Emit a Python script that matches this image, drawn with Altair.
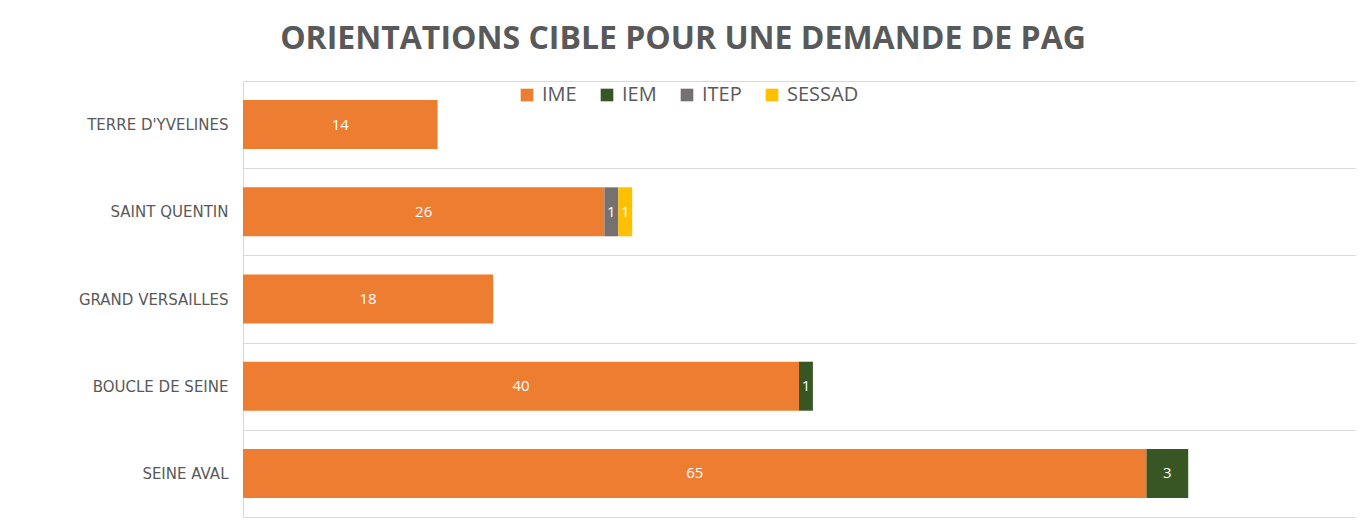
import altair as alt
import pandas as pd

regions = ["TERRE D'YVELINES", "SAINT QUENTIN", "GRAND VERSAILLES", "BOUCLE DE SEINE", "SEINE AVAL"]
types = ["IME", "IEM", "ITEP", "SESSAD"]
colors = ["#ED7D31", "#375623", "#767171", "#FFC000"]

ime = [14, 26, 18, 40, 65]
iem = [0, 0, 0, 1, 3]
itep = [0, 1, 0, 0, 0]
sessad = [0, 1, 0, 0, 0]

rows = []
for i, r in enumerate(regions):
    for k, (t, vals) in enumerate(zip(types, [ime, iem, itep, sessad])):
        if vals[i] > 0:
            rows.append({"region": r, "type": t, "value": vals[i], "ord": k})
df = pd.DataFrame(rows)

base = alt.Chart(df).transform_stack(
    stack="value", groupby=["region"], sort=[alt.SortField("ord")], as_=["v0", "v1"]
).transform_calculate(mid="(datum.v0 + datum.v1) / 2")

y = alt.Y(
    "region:N",
    sort=regions,
    title=None,
    scale=alt.Scale(paddingInner=0, paddingOuter=0),
    axis=alt.Axis(
        tickBand="extent",
        grid=True,
        gridColor="#D9D9D9",
        domainColor="#D9D9D9",
        ticks=False,
        labelFont="DejaVu Sans",
        labelFontSize=15,
        labelColor="#595959",
        labelPadding=15,
    ),
)

bars = base.mark_bar(size=49).encode(
    x=alt.X("v0:Q", scale=alt.Scale(domain=[0, 80]), axis=None),
    x2="v1:Q",
    y=y,
    color=alt.Color(
        "type:N",
        scale=alt.Scale(domain=types, range=colors),
        legend=alt.Legend(
            title=None,
            orient="none",
            direction="horizontal",
            legendX=274,
            legendY=4,
            symbolType="square",
            symbolSize=160,
            symbolStrokeWidth=0,
            labelFont="Open Sans",
            labelFontSize=20,
            labelColor="#595959",
            labelOffset=5,
            columnPadding=20,
        ),
    ),
)

labels = base.mark_text(color="white", font="Open Sans", fontSize=15).encode(
    x=alt.X("mid:Q", scale=alt.Scale(domain=[0, 80])),
    y=alt.Y("region:N", sort=regions),
    text="value:Q",
)

chart = (
    alt.layer(bars, labels)
    .properties(
        width=1112,
        height=436,
        autosize=alt.AutoSizeParams(type="none"),
        padding={"left": 235, "top": 73, "right": 5, "bottom": 5},
        title=alt.TitleParams(
            "ORIENTATIONS CIBLE POUR UNE DEMANDE DE PAG",
            font="Open Sans",
            fontSize=32,
            fontWeight="bold",
            color="#595959",
            anchor="middle",
            dx=-116,
            dy=38,
            offset=31,
            baseline="alphabetic",
        ),
    )
    .configure_view(stroke=None)
)

chart.save("out.html", embed_options={"renderer": "svg", "actions": False})
